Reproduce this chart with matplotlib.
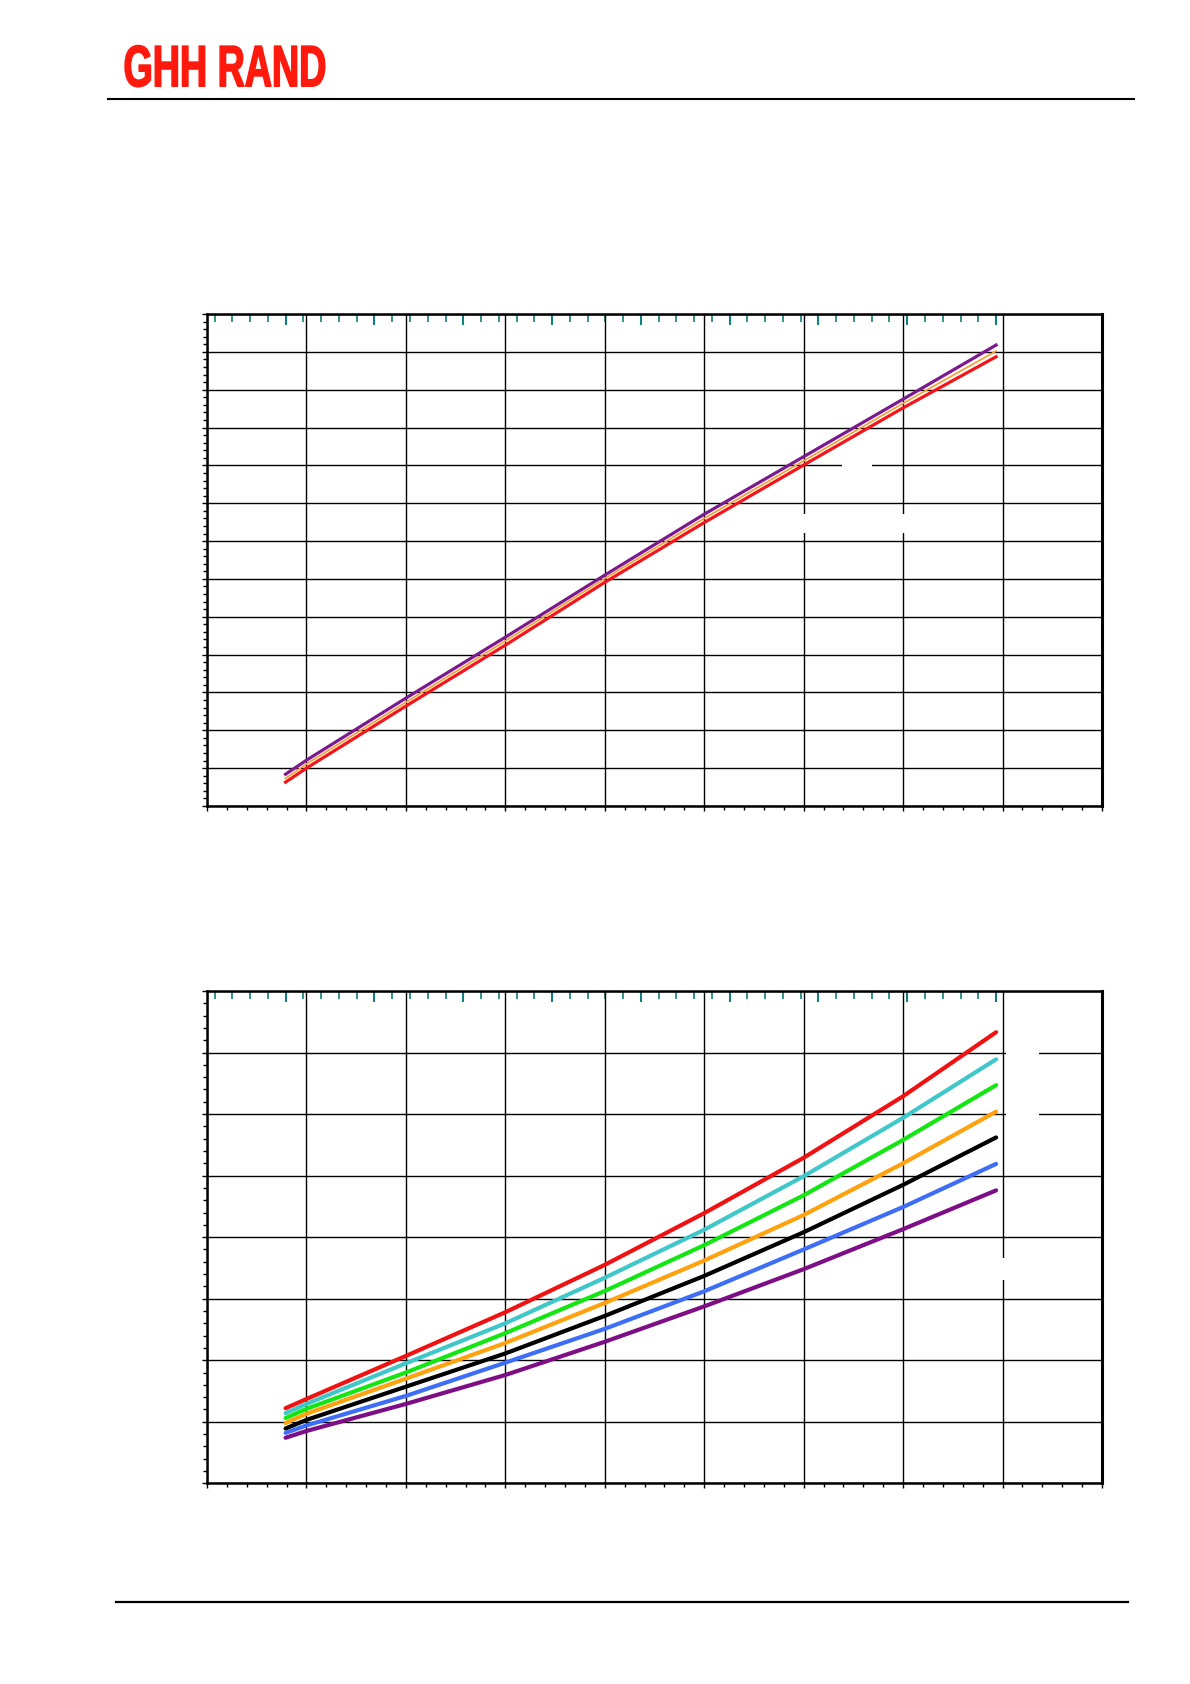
import numpy as np
import matplotlib
matplotlib.use('Agg')
import matplotlib.pyplot as plt
from matplotlib.ticker import MultipleLocator
from matplotlib.patches import Rectangle
from matplotlib.lines import Line2D
from matplotlib.patheffects import AbstractPathEffect
from matplotlib.transforms import Affine2D

# x positions of the read points (lower scale units)
x_pts = [7.9, 10, 20, 30, 40, 50, 60, 70, 79.35]

# upper chart
top_purple = [8.4, 12.1, 28.5, 44.6, 61.0, 77.1, 92.3, 107.5, 121.8]
top_orange = [7.3, 11.1, 27.4, 43.6, 60.1, 76.0, 91.2, 106.4, 120.2]
top_red = [6.3, 10.0, 26.4, 42.5, 59.1, 74.9, 90.1, 105.2, 118.7]

# lower chart
low_red = [12.2, 13.7, 20.7, 27.8, 35.5, 43.9, 52.9, 62.9, 73.3]
low_cyan = [11.4, 12.9, 19.5, 26.0, 33.4, 41.2, 49.9, 59.4, 68.9]
low_green = [10.6, 12.1, 18.0, 24.4, 31.25, 38.7, 46.8, 55.8, 64.7]
low_orange = [9.8, 11.3, 17.0, 22.8, 29.3, 36.2, 43.6, 52.0, 60.4]
low_black = [8.9, 10.3, 15.7, 21.1, 27.2, 33.7, 40.8, 48.5, 56.2]
low_blue = [8.2, 9.4, 14.2, 19.6, 25.1, 31.2, 38.0, 44.9, 51.9]
low_purple = [7.4, 8.5, 12.9, 17.6, 23.0, 28.75, 34.8, 41.3, 47.6]

TEAL = '#11807c'


# lower scale -> upper (teal) scale and back
def to_upper(x):
    return (np.asarray(x) + 1.016) / 0.8929


def to_lower(t):
    return np.asarray(t) * 0.8929 - 1.016


class Squeeze(AbstractPathEffect):
    # narrows (and slightly fattens) the glyphs, text stays text
    def __init__(self, sx, lw=1.1):
        super().__init__()
        self.sx = sx
        self.lw = lw

    def draw_path(self, renderer, gc, tpath, affine, rgbFace=None):
        gc0 = renderer.new_gc()
        gc0.copy_properties(gc)
        gc0.set_linewidth(self.lw)
        gc0.set_foreground(rgbFace)
        renderer.draw_path(gc0, tpath, Affine2D().scale(self.sx, 1) + affine, rgbFace)
        gc0.restore()


def setup_axes(ax, ymax):
    ax.set_xlim(0, 90)
    ax.set_ylim(0, ymax)
    ax.xaxis.set_major_locator(MultipleLocator(10))
    ax.xaxis.set_minor_locator(MultipleLocator(2))
    ax.yaxis.set_major_locator(MultipleLocator(10))
    ax.yaxis.set_minor_locator(MultipleLocator(2))
    ax.grid(True, which='major', color='black', linewidth=1.0)
    ax.set_axisbelow(True)
    ax.tick_params(which='both', direction='out', color='black', width=1.0,
                   labelbottom=False, labelleft=False, top=False, right=False)
    ax.tick_params(which='major', length=3.8)
    ax.tick_params(which='minor', length=3.0)
    for s in ax.spines.values():
        s.set_linewidth(1.8)
        s.set_color('black')
    ax.spines['right'].set_linewidth(2.2)

    sec = ax.secondary_xaxis('top', functions=(to_upper, to_lower))
    sec.set_xticks(np.arange(10, 91, 10))
    sec.set_xticks([t for t in range(2, 90, 2) if t % 10], minor=True)
    sec.tick_params(which='both', direction='in', color=TEAL, labeltop=False, width=1.2)
    sec.tick_params(which='major', length=8.2, width=1.5)
    sec.tick_params(which='minor', length=5.6)
    sec.spines['top'].set_visible(False)
    return sec


def blank_box(ax, x0, y0, x1, y1):
    # empty label boxes that interrupt the grid
    ax.add_patch(Rectangle((x0, y0), x1 - x0, y1 - y0, transform=ax.transAxes,
                           facecolor='white', edgecolor='none', zorder=1.5))


fig = plt.figure(figsize=(11.9, 16.84), dpi=100)

# header / footer
fig.add_artist(Line2D([0.0908, 0.9529], [0.9412, 0.9412], color='black', lw=1.5))
fig.add_artist(Line2D([0.0975, 0.9479], [0.0487, 0.0487], color='black', lw=1.6))
logo = fig.text(0.1038, 0.9488, 'GHH RAND', color='#ff1a0d', fontsize=42, fontweight='bold',
                family=['Liberation Sans Narrow', 'Liberation Sans', 'DejaVu Sans'],
                ha='left', va='baseline')
fig.canvas.draw()
w = logo.get_window_extent(fig.canvas.get_renderer()).width
logo.set_path_effects([Squeeze(203.0 / w)])

# upper chart
ax1 = fig.add_axes([0.17395, 0.52138, 0.7521, 0.29216])
setup_axes(ax1, 130)
ax1.plot(x_pts, top_purple, color='#7a1a8e', lw=2.3, zorder=3)
ax1.plot(x_pts, top_red, color='#f5141a', lw=2.3, zorder=3)
ax1.plot(x_pts, top_orange, color='#f2a23a', lw=1.3, zorder=4)
blank_box(ax1, 0.709, 0.675, 0.743, 0.705)
blank_box(ax1, 0.657, 0.554, 0.787, 0.594)

# lower chart
ax2 = fig.add_axes([0.17395, 0.11918, 0.7521, 0.29234])
setup_axes(ax2, 80)
low_series = [(low_red, '#f01212'), (low_cyan, '#3fc7c9'), (low_green, '#14e614'),
              (low_orange, '#ffa20f'), (low_black, '#000000'), (low_blue, '#3d6ef5'),
              (low_purple, '#7e0e86')]
for ys, c in low_series:
    ax2.plot(x_pts, ys, color=c, lw=3.0, solid_capstyle='round', solid_joinstyle='round', zorder=3)
blank_box(ax2, 0.893, 0.735, 0.930, 0.890)
blank_box(ax2, 0.880, 0.413, 0.905, 0.457)

fig.savefig('out.png', dpi=100)
